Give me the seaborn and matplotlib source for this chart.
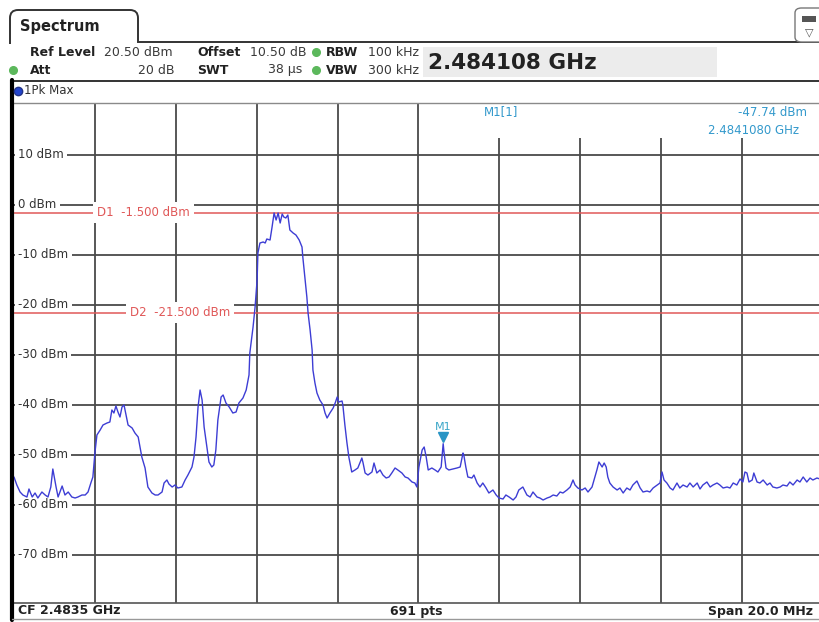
import matplotlib
matplotlib.use("Agg")
import matplotlib.pyplot as plt
import matplotlib.transforms as mtransforms
from matplotlib.lines import Line2D
from matplotlib.patches import Rectangle, FancyBboxPatch, PathPatch
from matplotlib.path import Path
import seaborn as sns
import pandas as pd

# --- values ---
START_GHZ = 2.4735          # CF 2.4835 GHz, span 20 MHz
STOP_GHZ = 2.4935
REF_LEVEL = 20.5
BOTTOM_LEVEL = -79.5

# trace (1Pk Max): offset from start frequency in MHz, level in dBm
offset_mhz = [
    0.00, 0.07, 0.15, 0.22, 0.32, 0.37, 0.45, 0.52, 0.59, 0.69, 0.77, 0.84, 0.91, 0.96,
    1.04, 1.09, 1.19, 1.26, 1.34, 1.43, 1.51, 1.58, 1.68, 1.76, 1.83, 1.90, 1.95, 2.00,
    2.05, 2.13, 2.20, 2.30, 2.37, 2.42, 2.47, 2.52, 2.57, 2.62, 2.67, 2.72, 2.77, 2.82,
    2.92, 2.99, 3.07, 3.16, 3.24, 3.31, 3.41, 3.49, 3.56, 3.66, 3.71, 3.78, 3.83, 3.91,
    3.98, 4.05, 4.15, 4.23, 4.30, 4.40, 4.45, 4.50, 4.55, 4.60, 4.65, 4.70, 4.77, 4.82,
    4.89, 4.94, 4.99, 5.04, 5.12, 5.17, 5.24, 5.32, 5.41, 5.49, 5.56, 5.66, 5.74, 5.81,
    5.83, 5.91, 5.96, 6.01, 6.03, 6.08, 6.16, 6.21, 6.25, 6.33, 6.38, 6.43, 6.48, 6.53,
    6.58, 6.63, 6.67, 6.72, 6.77, 6.82, 6.90, 6.97, 7.05, 7.12, 7.14, 7.19, 7.24, 7.27,
    7.32, 7.37, 7.39, 7.44, 7.49, 7.56, 7.64, 7.69, 7.74, 7.81, 7.89, 7.94, 7.99, 8.03,
    8.11, 8.13, 8.18, 8.23, 8.28, 8.35, 8.43, 8.50, 8.60, 8.63, 8.68, 8.75, 8.85, 8.90,
    8.97, 9.05, 9.12, 9.20, 9.27, 9.34, 9.42, 9.49, 9.59, 9.67, 9.74, 9.84, 9.91, 9.96,
    10.01, 10.09, 10.14, 10.19, 10.24, 10.33, 10.41, 10.48, 10.56, 10.61, 10.63, 10.68,
    10.75, 10.85, 10.95, 11.03, 11.10, 11.12, 11.17, 11.22, 11.32, 11.37, 11.45, 11.52,
    11.59, 11.67, 11.74, 11.84, 11.92, 11.99, 12.09, 12.16, 12.24, 12.34, 12.41, 12.48,
    12.58, 12.68, 12.76, 12.83, 12.93, 13.00, 13.08, 13.18, 13.25, 13.33, 13.42, 13.50,
    13.57, 13.67, 13.75, 13.82, 13.87, 13.94, 14.04, 14.12, 14.19, 14.29, 14.34, 14.41,
    14.46, 14.54, 14.59, 14.64, 14.68, 14.73, 14.81, 14.91, 14.98, 15.06, 15.15, 15.23,
    15.30, 15.40, 15.48, 15.55, 15.65, 15.72, 15.80, 15.90, 15.97, 16.02, 16.07, 16.14,
    16.22, 16.29, 16.39, 16.46, 16.54, 16.64, 16.71, 16.79, 16.89, 16.96, 17.03, 17.13,
    17.21, 17.28, 17.38, 17.45, 17.53, 17.63, 17.70, 17.78, 17.87, 17.95, 18.02, 18.07,
    18.12, 18.17, 18.25, 18.29, 18.37, 18.44, 18.52, 18.62, 18.69, 18.76, 18.86, 18.94,
    19.01, 19.11, 19.18, 19.26, 19.36, 19.43, 19.51, 19.60, 19.68, 19.75, 19.85, 20.00,
]
level_dbm = [
    -54.4, -56.0, -57.4, -58.0, -58.4, -56.8, -58.4, -57.6, -58.6, -57.4, -58.0, -58.4, -56.4, -52.8,
    -56.4, -58.4, -56.2, -58.0, -57.4, -58.4, -58.6, -58.4, -58.0, -58.0, -57.4, -55.6, -54.4, -49.6,
    -46.0, -45.0, -44.0, -43.6, -43.4, -41.0, -41.6, -40.2, -41.4, -42.4, -40.4, -40.0, -42.0, -44.0,
    -44.6, -45.6, -46.4, -50.4, -52.6, -56.4, -57.6, -58.0, -58.0, -57.4, -55.6, -55.0, -55.8, -56.4,
    -56.0, -56.6, -56.4, -55.0, -54.0, -52.4, -50.4, -46.4, -40.4, -37.0, -39.0, -44.4, -48.4, -51.4,
    -52.4, -52.0, -49.0, -43.0, -38.4, -38.0, -39.6, -40.4, -41.6, -41.4, -39.6, -38.6, -37.0, -34.0,
    -29.6, -24.4, -20.4, -15.0, -9.6, -7.6, -7.4, -7.6, -6.8, -7.0, -4.4, -1.6, -3.0, -1.6,
    -3.6, -1.8, -2.4, -2.6, -2.0, -5.0, -5.6, -6.0, -7.0, -8.4, -10.4, -14.4, -18.4, -21.6,
    -25.0, -29.0, -33.0, -35.6, -37.6, -39.0, -40.0, -41.6, -42.6, -41.6, -40.6, -39.6, -38.4, -39.4,
    -39.2, -40.0, -44.0, -47.5, -50.5, -53.4, -53.0, -52.6, -50.6, -51.6, -53.6, -54.0, -53.4, -51.6,
    -53.6, -53.0, -54.0, -54.6, -54.4, -53.6, -52.6, -53.0, -53.6, -54.4, -54.6, -55.4, -55.6, -56.4,
    -52.4, -49.0, -48.4, -50.4, -53.0, -52.6, -53.0, -53.4, -52.4, -47.74, -49.4, -52.6,
    -53.0, -52.8, -52.6, -52.4, -49.6, -50.0, -52.4, -54.4, -54.6, -54.0, -55.6, -56.4,
    -55.6, -56.6, -57.6, -57.0, -58.0, -58.6, -58.8, -58.0, -58.4, -59.0, -58.4, -57.0,
    -56.4, -58.0, -58.4, -57.4, -58.4, -58.6, -59.0, -58.6, -58.4, -58.0, -58.2, -57.4,
    -57.6, -57.0, -56.4, -55.0, -56.0, -56.6, -57.0, -56.6, -57.4, -56.4, -55.0, -53.0,
    -51.4, -52.4, -51.6, -52.4, -54.4, -55.6, -56.4, -57.0, -56.6, -57.6, -56.6, -57.0,
    -56.0, -55.2, -56.6, -57.4, -57.2, -57.4, -56.6, -56.0, -55.6, -53.4, -55.0, -55.6,
    -56.6, -57.0, -55.6, -56.6, -56.0, -56.4, -55.6, -56.4, -55.6, -56.8, -56.0, -55.4,
    -56.4, -56.0, -55.6, -56.0, -56.6, -56.4, -56.6, -55.6, -56.0, -54.8, -55.4, -53.4,
    -53.6, -55.4, -55.0, -53.6, -55.4, -55.6, -55.0, -56.0, -55.6, -56.4, -56.6, -56.4,
    -56.0, -56.2, -55.4, -56.0, -55.0, -55.4, -54.4, -55.4, -54.6, -55.0, -54.6, -55.0,
]

ytick_levels = [10, 0, -10, -20, -30, -40, -50, -60, -70]
xgrid_ghz = [2.4755, 2.4775, 2.4795, 2.4815, 2.4835, 2.4855, 2.4875, 2.4895, 2.4915]

d_names = ["D1", "D2"]
d_levels = [-1.5, -21.5]

marker_ghz = 2.484108
marker_dbm = -47.74

trace = pd.DataFrame({
    "freq_ghz": [START_GHZ + m / 1000 for m in offset_mhz],
    "level_dbm": level_dbm,
})

# --- figure in pixel units ---
W, H = 819, 622

def fx(x):
    return x / W

def fy(y):
    return 1 - y / H

sns.set_style("white")
plt.rcParams["font.family"] = ["DejaVu Sans"]

fig = plt.figure(figsize=(W / 100, H / 100), dpi=100)
fig.patch.set_facecolor("white")

ax = fig.add_axes([fx(14), fy(602.5), 809 / W, 500 / H])
ax.set_xlim(START_GHZ, STOP_GHZ)
ax.set_ylim(BOTTOM_LEVEL, REF_LEVEL)
ax.set_xticks(xgrid_ghz)
ax.set_yticks(ytick_levels)
ax.tick_params(length=0, labelbottom=False, labelleft=False)
ax.grid(True, color="#4a4a4a", lw=1.3)
ax.set_axisbelow(True)
for side in ["left", "right"]:
    ax.spines[side].set_visible(False)
ax.spines["top"].set_color("#8a8a8a")
ax.spines["top"].set_linewidth(1.0)
ax.spines["bottom"].set_color("#555555")
ax.spines["bottom"].set_linewidth(1.2)

# white area for the marker readout hides the grid there
ax.add_patch(Rectangle((0.572, 0.929), 0.43, 0.08, transform=ax.transAxes,
                       facecolor="white", edgecolor="none", zorder=1.5))

# level labels sitting on the grid lines
for v in ytick_levels:
    ax.text(4 / 809, v, f"{v} dBm", transform=ax.get_yaxis_transform(),
            ha="left", va="center", fontsize=8.5, color="#333333", zorder=3,
            bbox=dict(facecolor="white", edgecolor="none", pad=2.5))

# display lines
red = "#e05858"
for name, lev, lx in zip(d_names, d_levels, [97, 130]):
    ax.axhline(lev, color=red, lw=1.1, zorder=3.2)
    ax.text((lx - 14) / 809, lev, f"{name}  {lev:.3f} dBm", transform=ax.get_yaxis_transform(),
            ha="left", va="center", fontsize=8.5, color=red, zorder=3.5,
            bbox=dict(facecolor="white", edgecolor="none", pad=3.0))

sns.lineplot(data=trace, x="freq_ghz", y="level_dbm", ax=ax, color="#3d3dd4",
             lw=1.0, zorder=4, legend=False)
ax.set_xlabel("")
ax.set_ylabel("")

# marker M1
mk = "#2a95c5"
trans = mtransforms.offset_copy(ax.transData, fig=fig, x=0, y=4.5, units="points")
ax.plot([marker_ghz], [marker_dbm], marker="v", ms=7, color=mk, transform=trans, zorder=5)
ax.annotate("M1", xy=(marker_ghz, marker_dbm), xytext=(0, 12), textcoords="offset points",
            ha="center", va="center", fontsize=8, color="#3aa6c8", zorder=5)

blue_txt = "#3399cc"
fig.text(fx(484), fy(112), "M1[1]", fontsize=8.5, color=blue_txt, va="center", ha="left")
fig.text(fx(738), fy(112), f"{marker_dbm:.2f} dBm", fontsize=8.5, color=blue_txt, va="center", ha="left")
fig.text(fx(708), fy(130), f"{marker_ghz:.7f} GHz", fontsize=8.5, color=blue_txt, va="center", ha="left")

# --- header ---
def fline(x0, y0, x1, y1, **kw):
    fig.add_artist(Line2D([fx(x0), fx(x1)], [fy(y0), fy(y1)], transform=fig.transFigure, **kw))

tab = Path([(fx(10), fy(44)), (fx(10), fy(18)), (fx(10), fy(10)), (fx(18), fy(10)),
            (fx(130), fy(10)), (fx(138), fy(10)), (fx(138), fy(18)), (fx(138), fy(42)),
            (fx(830), fy(42))],
           [Path.MOVETO, Path.LINETO, Path.CURVE3, Path.CURVE3, Path.LINETO,
            Path.CURVE3, Path.CURVE3, Path.LINETO, Path.LINETO])
fig.add_artist(PathPatch(tab, transform=fig.transFigure, facecolor="none",
                         edgecolor="#333333", lw=1.4))
fig.text(fx(20), fy(26), "Spectrum", fontsize=10.5, fontweight="bold", color="#222222", va="center")

# small icon top right
fig.add_artist(FancyBboxPatch((fx(795), fy(42)), fx(40), 34 / H,
                              boxstyle="round,pad=0,rounding_size=0.008",
                              transform=fig.transFigure, facecolor="white",
                              edgecolor="#777777", lw=1.0))
fig.add_artist(Rectangle((fx(802), fy(22)), fx(14), 6 / H, transform=fig.transFigure,
                         facecolor="#555555", edgecolor="none"))
fig.text(fx(809), fy(32), "▽", fontsize=8, color="#555555", ha="center", va="center")

hdr = "#222222"
val = "#3a3a3a"
fs = 9
fig.text(fx(30), fy(52), "Ref Level", fontsize=fs, fontweight="bold", color=hdr, va="center")
fig.text(fx(104), fy(52), "20.50 dBm", fontsize=fs, color=val, va="center")
fig.text(fx(197), fy(52), "Offset", fontsize=fs, fontweight="bold", color=hdr, va="center")
fig.text(fx(250), fy(52), "10.50 dB", fontsize=fs, color=val, va="center")
fig.text(fx(326), fy(52), "RBW", fontsize=fs, fontweight="bold", color=hdr, va="center")
fig.text(fx(368), fy(52), "100 kHz", fontsize=fs, color=val, va="center")
fig.text(fx(30), fy(70), "Att", fontsize=fs, fontweight="bold", color=hdr, va="center")
fig.text(fx(175), fy(70), "20 dB", fontsize=fs, color=val, va="center", ha="right")
fig.text(fx(197), fy(70), "SWT", fontsize=fs, fontweight="bold", color=hdr, va="center")
fig.text(fx(302), fy(70), "38 µs", fontsize=fs, color=val, va="center", ha="right")
fig.text(fx(326), fy(70), "VBW", fontsize=fs, fontweight="bold", color=hdr, va="center")
fig.text(fx(368), fy(70), "300 kHz", fontsize=fs, color=val, va="center")

green = "#5cb85c"
for gx, gy in [(316, 52), (316, 70), (13, 70)]:
    fig.add_artist(Line2D([fx(gx)], [fy(gy)], marker="o", ms=5.5, color=green,
                          transform=fig.transFigure))

# big frequency readout
fig.add_artist(Rectangle((fx(423), fy(77)), fx(294), 30 / H, transform=fig.transFigure,
                         facecolor="#ececec", edgecolor="none", zorder=5))
fig.text(fx(428), fy(63), "2.484108 GHz", fontsize=15.5, fontweight="bold", color="#222222",
         va="center", zorder=6)

fline(12, 80.5, 830, 80.5, color="#333333", lw=1.4)
fline(12, 80, 12, 620, color="black", lw=3)
fline(12, 619, 830, 619, color="#999999", lw=1.0)

# trace label
fig.add_artist(Line2D([fx(18)], [fy(91)], marker="o", ms=6, color="#2244cc",
                      markeredgecolor="#223388", transform=fig.transFigure))
fig.text(fx(24), fy(91), "1Pk Max", fontsize=8.5, color="#333333", va="center")

# bottom bar
fig.text(fx(18), fy(611), "CF 2.4835 GHz", fontsize=9, fontweight="bold", color="#222222", va="center")
fig.text(fx(416), fy(611), "691 pts", fontsize=9, fontweight="bold", color="#222222", va="center", ha="center")
fig.text(fx(813), fy(611), "Span 20.0 MHz", fontsize=9, fontweight="bold", color="#222222", va="center", ha="right")

fig.savefig("out.png", dpi=100)
